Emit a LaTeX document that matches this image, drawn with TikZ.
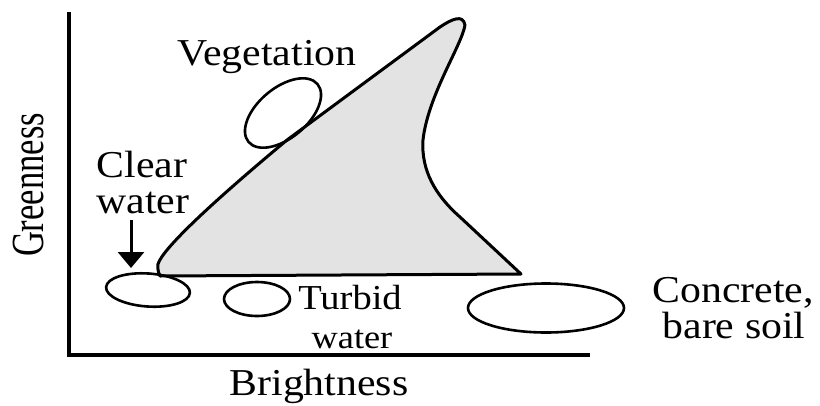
\documentclass[tikz,border=0pt]{standalone}
\usepackage{fontspec}
\setmainfont{Liberation Serif}
\usetikzlibrary{shapes.geometric,arrows.meta}
\begin{document}
\begin{tikzpicture}[x=1pt,y=-1pt,
  lbl/.style={inner sep=0pt,anchor=base,xscale=1.1,font=\fontsize{38}{40}\selectfont},
  lblmid/.style={inner sep=0pt,anchor=base,xscale=1.1,font=\fontsize{35}{37}\selectfont},
  lblsmall/.style={inner sep=0pt,anchor=base,xscale=1.1,font=\fontsize{33}{35}\selectfont},
  oval/.style={draw,ellipse,line width=2.6pt,inner sep=0pt},
  axis/.style={line width=4pt},
  region/.style={draw,line width=3pt,fill=gray!22,line join=round}]
\useasboundingbox (0,0) rectangle (820,405);
% axes
\coordinate (origin) at (69,355);
\coordinate (ytop) at (69,12);
\coordinate (xend) at (590,355);
\draw[axis] (ytop) -- (origin) -- (xend);
% region
\draw[region] (160,276) .. controls (157,270) and (158,266) .. (158,264)
  .. controls (163,248) and (215,200) .. (287,140)
  -- (440,27) .. controls (452,19) and (463,14) .. (465,25)
  .. controls (462,45) and (428,95) .. (423,140)
  .. controls (421,170) and (435,195) .. (460,217)
  -- (521,274) -- cycle;
% ellipses
\node[oval,minimum width=90pt,minimum height=50pt,rotate=40] (veg) at (283,113) {};
\node[oval,minimum width=84pt,minimum height=33pt,rotate=-4] (clear) at (148,290) {};
\node[oval,minimum width=66pt,minimum height=34pt] (turbid) at (257,299) {};
\node[oval,minimum width=156pt,minimum height=49pt] (concrete) at (546,308) {};
% labels
\node[lbl] (veglbl) at (267,65) {Vegetation};
\node[lbl,rotate=90,xscale=1/1.1,yscale=1.1] (greenlbl) at (43,185) {Greenness};
\node[lbl] (clearlbl1) at (142,177) {Clear};
\node[lbl] (clearlbl2) at (143,213) {water};
\node[lblmid] (turblbl1) at (350,309) {Turbid};
\node[lblsmall] (turblbl2) at (352,348) {water};
\node[lbl] (brightlbl) at (319,395) {Brightness};
\node[lbl] (conclbl1) at (733,302) {Concrete,};
\node[lbl] (conclbl2) at (734,338) {bare soil};
% arrow
\coordinate (arrtop) at (131,220);
\coordinate (arrtip) at (131,268);
\draw[line width=3pt,-{Triangle[length=16pt,width=26pt]}] (arrtop) -- (arrtip);
\end{tikzpicture}
\end{document}
